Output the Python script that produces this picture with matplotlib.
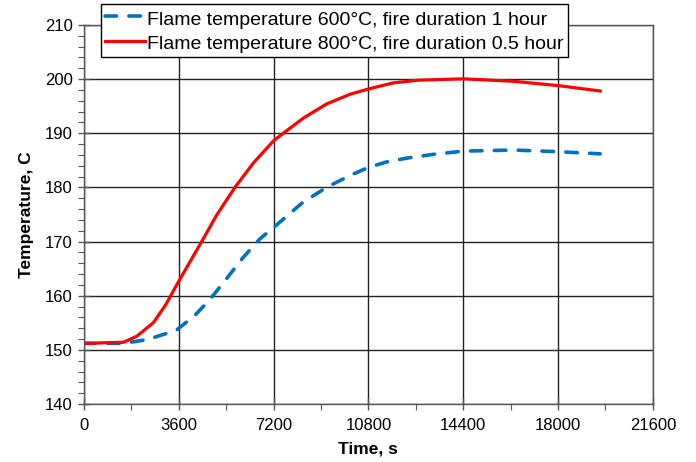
import matplotlib.pyplot as plt
from matplotlib.ticker import MultipleLocator

plt.rcParams['font.family'] = ['Liberation Sans', 'DejaVu Sans']

# flame 600 C, 1 hour fire
t_600 = [0, 1500, 2400, 3500, 4215, 4780, 5420, 6050, 6680, 7440, 8300,
         9210, 10100, 10800, 11490, 12250, 13260, 14400, 16300, 18000, 19600]
T_600 = [151.2, 151.2, 151.9, 153.6, 156.4, 159.3, 163.2, 167.1, 170.5,
         173.6, 177.2, 180.0, 182.2, 183.7, 184.7, 185.4, 186.1, 186.7,
         186.9, 186.6, 186.2]

# flame 800 C, 0.5 hour fire
t_800 = [0, 1500, 2000, 2630, 3100, 3600, 4470, 5040, 5730, 6430, 7215,
         7570, 8330, 9210, 10100, 10820, 11740, 12690, 14400, 16300, 18000,
         19600]
T_800 = [151.2, 151.4, 152.5, 155.0, 158.3, 162.7, 170.0, 174.9, 180.0,
         184.5, 188.7, 190.0, 192.8, 195.4, 197.2, 198.2, 199.3, 199.8,
         200.05, 199.6, 198.8, 197.8]

labels = ['Flame temperature 600\u00b0C, fire duration 1 hour',
          'Flame temperature 800\u00b0C, fire duration 0.5 hour']

fig = plt.figure(figsize=(6.96, 4.62), dpi=100)
ax = fig.add_axes([0.1207, 0.1255, 0.8173, 0.8205])

ax.plot(t_600, T_600, color='#0070C0', lw=2.6, dashes=(3.2, 3.4),
        dash_capstyle='round', label=labels[0])
ax.plot(t_800, T_800, color='#FF0000', lw=2.3, label=labels[1])

ax.set_xlim(0, 21600)
ax.set_ylim(140, 210)
ax.xaxis.set_major_locator(MultipleLocator(3600))
ax.xaxis.set_minor_locator(MultipleLocator(1800))
ax.yaxis.set_major_locator(MultipleLocator(10))
ax.yaxis.set_minor_locator(MultipleLocator(2))
ax.tick_params(which='major', direction='inout', length=8, width=1,
               color='#555555', labelsize=12, pad=4)
ax.tick_params(axis='x', which='major', pad=6)
ax.tick_params(which='minor', direction='out', length=4, width=0.8,
               color='#555555')
ax.grid(True, which='major', color='#222222', lw=1)
for s in ax.spines.values():
    s.set_color('#555555')
    s.set_linewidth(1)

ax.set_xlabel('Time, s', fontsize=12.5, fontweight='bold', labelpad=6)
ax.set_ylabel('Temperature, C', fontsize=12.5, fontweight='bold', labelpad=8)

leg = ax.legend(loc='upper left', bbox_to_anchor=(0.1447, 0.9913),
                bbox_transform=fig.transFigure, fontsize=14, frameon=True,
                fancybox=False, edgecolor='black', framealpha=1,
                handlelength=2.1, handleheight=1.25, handletextpad=0.1,
                borderpad=0.2, labelspacing=0.2, borderaxespad=0)
leg.get_frame().set_linewidth(1)

fig.savefig('out.png', dpi=100)
